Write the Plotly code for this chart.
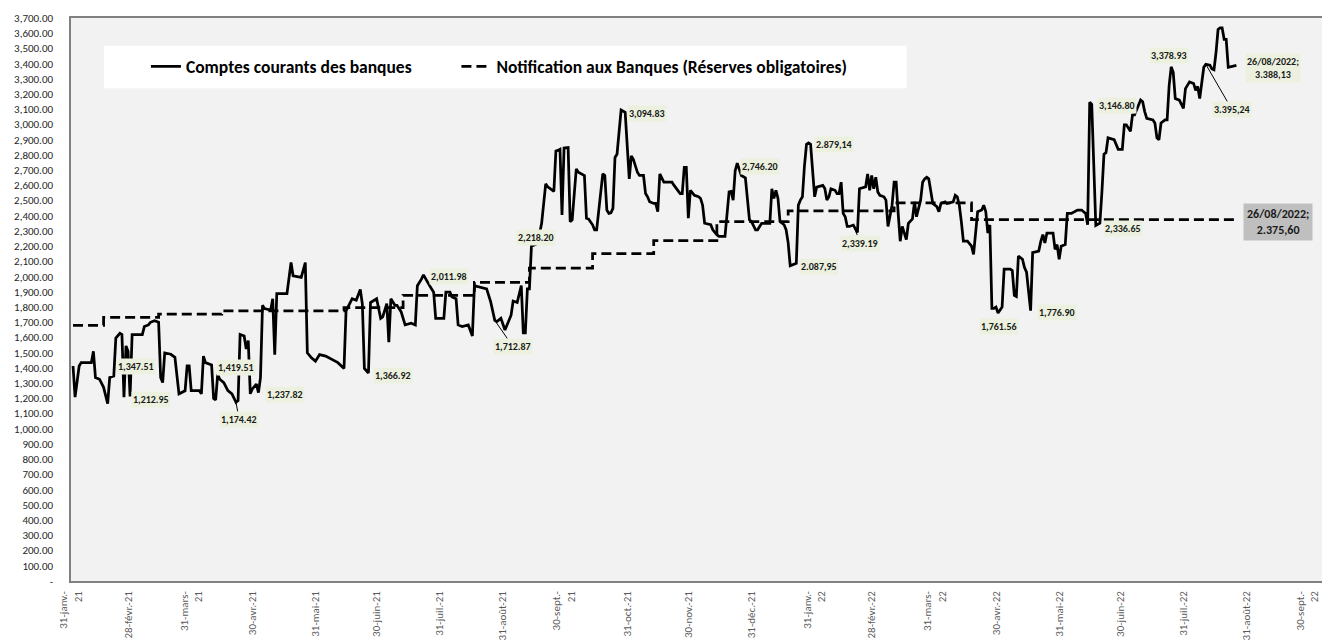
import plotly.graph_objects as go

# ---------------- data ----------------
cc_dates = [
    "2021-02-01","2021-02-02","2021-02-04","2021-02-05","2021-02-10","2021-02-11","2021-02-12","2021-02-14",
    "2021-02-16","2021-02-18","2021-02-19","2021-02-21","2021-02-22","2021-02-24","2021-02-25","2021-02-26",
    "2021-02-27","2021-02-28","2021-03-01","2021-03-02","2021-03-07","2021-03-08","2021-03-10","2021-03-11",
    "2021-03-13","2021-03-15","2021-03-16","2021-03-17","2021-03-18","2021-03-21","2021-03-23","2021-03-24",
    "2021-03-25","2021-03-28","2021-03-29","2021-03-30","2021-03-31","2021-04-04","2021-04-05","2021-04-06",
    "2021-04-07","2021-04-10","2021-04-11","2021-04-12","2021-04-13","2021-04-14","2021-04-16","2021-04-18",
    "2021-04-20","2021-04-22","2021-04-23","2021-04-24","2021-04-26","2021-04-27","2021-04-28","2021-04-29",
    "2021-04-30","2021-05-02","2021-05-03","2021-05-04","2021-05-05","2021-05-06","2021-05-09","2021-05-10",
    "2021-05-11","2021-05-12","2021-05-17","2021-05-19","2021-05-20","2021-05-24","2021-05-26","2021-05-27",
    "2021-05-29","2021-05-31","2021-06-02","2021-06-05","2021-06-08","2021-06-11","2021-06-14","2021-06-15",
    "2021-06-18","2021-06-20","2021-06-22","2021-06-23","2021-06-24","2021-06-26","2021-06-27","2021-06-30",
    "2021-07-02","2021-07-03","2021-07-05","2021-07-06","2021-07-07","2021-07-09","2021-07-10","2021-07-12",
    "2021-07-14","2021-07-17","2021-07-19","2021-07-20","2021-07-22","2021-07-23","2021-07-26","2021-07-28",
    "2021-07-29","2021-08-02","2021-08-03","2021-08-05","2021-08-06","2021-08-08","2021-08-09","2021-08-11",
    "2021-08-14","2021-08-16","2021-08-17","2021-08-20","2021-08-23","2021-08-25","2021-08-27","2021-08-28",
    "2021-08-30","2021-09-01","2021-09-04","2021-09-05","2021-09-07","2021-09-09","2021-09-10","2021-09-11",
    "2021-09-12","2021-09-13","2021-09-14","2021-09-17","2021-09-19","2021-09-21","2021-09-22","2021-09-25",
    "2021-09-26","2021-09-27","2021-09-28","2021-09-29","2021-09-30","2021-10-02","2021-10-03","2021-10-04",
    "2021-10-06","2021-10-07","2021-10-09","2021-10-10","2021-10-11","2021-10-12","2021-10-14","2021-10-15",
    "2021-10-16","2021-10-18","2021-10-19","2021-10-20","2021-10-21","2021-10-22","2021-10-23","2021-10-24",
    "2021-10-25","2021-10-26","2021-10-27","2021-10-28","2021-10-30","2021-10-31","2021-11-01","2021-11-02",
    "2021-11-03","2021-11-05","2021-11-06","2021-11-08","2021-11-09","2021-11-10","2021-11-11","2021-11-13",
    "2021-11-14","2021-11-15","2021-11-16","2021-11-18","2021-11-22","2021-11-23","2021-11-24","2021-11-26",
    "2021-11-27","2021-11-28","2021-11-29","2021-11-30","2021-12-01","2021-12-03","2021-12-05","2021-12-06",
    "2021-12-07","2021-12-08","2021-12-11","2021-12-12","2021-12-14","2021-12-15","2021-12-18","2021-12-19",
    "2021-12-20","2021-12-21","2021-12-22","2021-12-23","2021-12-24","2021-12-26","2021-12-28","2021-12-30",
    "2021-12-31","2022-01-02","2022-01-03","2022-01-04","2022-01-05","2022-01-09","2022-01-10","2022-01-11",
    "2022-01-12","2022-01-13","2022-01-14","2022-01-16","2022-01-17","2022-01-18","2022-01-19","2022-01-22",
    "2022-01-23","2022-01-24","2022-01-25","2022-01-26","2022-01-27","2022-01-28","2022-01-29","2022-01-31",
    "2022-02-01","2022-02-04","2022-02-05","2022-02-06","2022-02-07","2022-02-08","2022-02-10","2022-02-11",
    "2022-02-12","2022-02-13","2022-02-14","2022-02-15","2022-02-16","2022-02-17","2022-02-19","2022-02-21",
    "2022-02-22","2022-02-25","2022-02-26","2022-02-27","2022-02-28","2022-03-01","2022-03-02","2022-03-03",
    "2022-03-04","2022-03-06","2022-03-07","2022-03-08","2022-03-09","2022-03-10","2022-03-11","2022-03-12",
    "2022-03-13","2022-03-14","2022-03-15","2022-03-16","2022-03-17","2022-03-18","2022-03-20","2022-03-21",
    "2022-03-22","2022-03-23","2022-03-24","2022-03-25","2022-03-26","2022-03-27","2022-03-28","2022-03-30",
    "2022-03-31","2022-04-01","2022-04-02","2022-04-03","2022-04-05","2022-04-06","2022-04-09","2022-04-10",
    "2022-04-11","2022-04-12","2022-04-13","2022-04-14","2022-04-16","2022-04-18","2022-04-19","2022-04-20",
    "2022-04-21","2022-04-23","2022-04-24","2022-04-25","2022-04-26","2022-04-27","2022-04-28","2022-04-29",
    "2022-04-30","2022-05-01","2022-05-02","2022-05-03","2022-05-04","2022-05-07","2022-05-08","2022-05-09",
    "2022-05-10","2022-05-11","2022-05-13","2022-05-14","2022-05-15","2022-05-17","2022-05-18","2022-05-21",
    "2022-05-22","2022-05-23","2022-05-24","2022-05-25","2022-05-28","2022-05-29","2022-05-30","2022-05-31",
    "2022-06-01","2022-06-03","2022-06-04","2022-06-06","2022-06-09","2022-06-11","2022-06-13","2022-06-14",
    "2022-06-15","2022-06-16","2022-06-18","2022-06-20","2022-06-21","2022-06-22","2022-06-23","2022-06-24",
    "2022-06-27","2022-06-29","2022-07-01","2022-07-02","2022-07-03","2022-07-05","2022-07-06","2022-07-07",
    "2022-07-10","2022-07-11","2022-07-12","2022-07-13","2022-07-16","2022-07-17","2022-07-18","2022-07-19",
    "2022-07-20","2022-07-22","2022-07-23","2022-07-24","2022-07-25","2022-07-26","2022-07-27","2022-07-29",
    "2022-07-31","2022-08-01","2022-08-03","2022-08-05","2022-08-06","2022-08-07","2022-08-08","2022-08-09",
    "2022-08-10","2022-08-11","2022-08-13","2022-08-14","2022-08-15","2022-08-16","2022-08-17","2022-08-18",
    "2022-08-19","2022-08-20","2022-08-21","2022-08-22","2022-08-23","2022-08-25","2022-08-26",
]
cc_values = [
    1413,1208,1413,1435,1435,1510,1337,1326,
    1273,1165,1337,1347.51,1596,1628,1620,1208,
    1545,1510,1212.95,1620,1620,1672,1683,1700,
    1710,1700,1337,1304,1499,1490,1470,1337,
    1230,1250,1413,1413,1251,1251,1230,1478,
    1435,1419.51,1200,1190,1359,1326,1304,1251,
    1230,1174.42,1185,1620,1610,1525,1580,1230,
    1262,1294,1237.82,1337,1812,1790,1780,1855,
    1488,1888,1888,2093,2006,1995,2093,1500,
    1467,1445,1488,1478,1456,1435,1397,1775,
    1855,1845,1916,1820,1397,1366.92,1830,1855,
    1726,1736,1823,1570,1855,1812,1812,1770,
    1683,1694,1683,1941,1984,2011.98,1941,1898,
    1726,1726,1899,1899,1866,1855,1683,1672,
    1683,1610,1941,1930,1920,1834,1712.87,1705,
    1726,1650,1747,1840,1830,1941,1630,1630,
    1920,1920,2200,2218.20,2351,2610,2590,2560,
    2826,2830,2837,2405,2845,2848,2362,2373,
    2708,2686,2675,2665,2384,2380,2341,2308,
    2308,2546,2675,2665,2438,2416,2420,2449,
    2783,2805,2977,3094.83,3080,2816,2643,2794,
    2772,2686,2665,2665,2546,2525,2492,2481,
    2481,2427,2675,2621,2621,2600,2580,2546,
    2546,2718,2718,2384,2568,2535,2525,2514,
    2470,2351,2341,2308,2276,2265,2265,2416,
    2557,2560,2503,2697,2746.20,2665,2650,2373,
    2362,2308,2308,2330,2351,2351,2578,2514,
    2568,2514,2362,2341,2308,2222,2071,2087.95,
    2470,2503,2525,2729,2870,2879.14,2870,2525,
    2589,2600,2580,2503,2525,2578,2568,2546,
    2546,2621,2416,2394,2330,2330,2339.19,2290,
    2578,2590,2675,2568,2665,2578,2654,2557,
    2535,2525,2503,2330,2394,2470,2621,2621,
    2416,2233,2330,2287,2244,2351,2380,2492,
    2394,2449,2503,2621,2643,2654,2643,2481,
    2470,2460,2427,2481,2492,2481,2492,2535,
    2525,2470,2362,2233,2233,2200,2146,2265,
    2427,2438,2470,2427,2287,2340,1791,1791,
    1800,1761.56,1785,1800,2049,2049,2040,1877,
    1870,2136,2115,2060,2030,1776.90,2158,2168,
    2233,2276,2222,2287,2287,2179,2211,2114,
    2200,2211,2416,2416,2438,2438,2416,2341,
    3146.80,3133,2336.65,2351,2557,2805,2815,2912,
    2900,2837,2837,2998,2998,2955,3063,3063,
    3161,3150,3085,3040,3030,3010,2912,2900,
    3010,3031,3031,3258,3378.93,3343,3171,3160,
    3106,3236,3280,3270,3225,3250,3171,3290,
    3376,3395.24,3390,3365,3360,3473,3624,3635,
    3635,3560,3560,3376,3380,3385,3388.13,
]

ro_dates = ["2021-02-01","2021-02-16","2021-03-15","2021-04-15","2021-06-14","2021-07-13",
            "2021-08-17","2021-09-13","2021-10-14","2021-11-13","2021-12-14","2022-01-18",
            "2022-03-11","2022-04-18","2022-08-26"]
ro_values = [1680,1732,1754,1776,1797,1877,1963,2056,2151,2237,2362,2433,2485,2375.60,2375.60]

tick_dates = ["2021-01-31","2021-02-28","2021-03-31","2021-04-30","2021-05-31","2021-06-30",
              "2021-07-31","2021-08-31","2021-09-30","2021-10-31","2021-11-30","2021-12-31",
              "2022-01-31","2022-02-28","2022-03-31","2022-04-30","2022-05-31","2022-06-30",
              "2022-07-31","2022-08-31","2022-09-30"]
tick_labels = ["31-janv.-<br>21","28-févr.-21","31-mars-<br>21","30-avr.-21","31-mai-21","30-juin-21",
               "31-juil.-21","31-août-21","30-sept.-<br>21","31-oct.-21","30-nov.-21","31-déc.-21",
               "31-janv.-<br>22","28-févr.-22","31-mars-<br>22","30-avr.-22","31-mai-22","30-juin-22",
               "31-juil.-22","31-août-22","30-sept.-<br>22"]

y_tick_values = list(range(0, 3701, 100))
y_tick_labels = ["-" if v == 0 else f"{v:,.2f}" for v in y_tick_values]

series_names = ["Comptes courants des banques", "Notification aux Banques (Réserves obligatoires)"]

# data labels: (date, value, text)
label_points = [
    ("2021-02-21", 1347.51, "1,347.51"),
    ("2021-03-01", 1212.95, "1,212.95"),
    ("2021-04-10", 1419.51, "1,419.51"),
    ("2021-04-22", 1174.42, "1,174.42"),
    ("2021-05-03", 1237.82, "1,237.82"),
    ("2021-06-26", 1366.92, "1,366.92"),
    ("2021-07-23", 2011.98, "2,011.98"),
    ("2021-08-27", 1712.87, "1,712.87"),
    ("2021-09-17", 2218.20, "2,218.20"),
    ("2021-10-28", 3094.83, "3,094.83"),
    ("2021-12-24", 2746.20, "2,746.20"),
    ("2022-01-28", 2879.14, "2.879,14"),
    ("2022-01-22", 2087.95, "2.087,95"),
    ("2022-02-19", 2339.19, "2,339.19"),
    ("2022-05-01", 1761.56, "1,761.56"),
    ("2022-05-17", 1776.90, "1,776.90"),
    ("2022-06-18", 2336.65, "2,336.65"),
    ("2022-06-15", 3146.80, "3,146.80"),
    ("2022-07-25", 3378.93, "3,378.93"),
    ("2022-08-11", 3395.24, "3.395,24"),
    ("2022-08-26", 3388.13, "26/08/2022;<br>3.388,13"),
]
end_label_ro = ("2022-08-26", 2375.60, "26/08/2022;<br>2.375,60")

# label placement (pixel offsets from point, screen coords) and leader flag
label_offsets = [
    (22, -9, False), (21, 3, False), (24, 2, False), (3, 17, True), (27, 2, False),
    (25, 2, False), (26, 2, False), (18, 26, True), (-2, -6, False), (26, 3, False),
    (23, 3, False), (25, 2, False), (23, 3, False), (7, 18, True), (1, 14, False),
    (26, 2, False), (27, 3, False), (27, 3, False), (-2, -11, False), (26, 45, True),
    (37, 3, False),
]

FONT = "Calibri, Carlito, Lato, sans-serif"
LABEL_BG = "#EBF1DE"

fig = go.Figure()
fig.add_trace(go.Scatter(
    x=cc_dates, y=cc_values, mode="lines", name=series_names[0], legend="legend",
    line=dict(color="black", width=2.75), hoverinfo="x+y",
))
fig.add_trace(go.Scatter(
    x=ro_dates, y=ro_values, mode="lines", name=series_names[1], legend="legend2",
    line=dict(color="black", width=2.75, dash="10px,5px", shape="hv"), hoverinfo="x+y",
))

annotations = []
for (d, v, t), (dx, dy, leader) in zip(label_points, label_offsets):
    base = dict(x=d, y=v, xref="x", yref="y", text=t, bgcolor=LABEL_BG,
                font=dict(family=FONT, size=10, color="#1a1a1a", weight="bold"),
                borderpad=1, align="center")
    if leader:
        base.update(showarrow=True, arrowhead=0, arrowwidth=1, arrowcolor="black",
                    ax=dx, ay=dy, standoff=0)
    else:
        base.update(showarrow=False, xshift=dx, yshift=-dy)
    annotations.append(base)

annotations.append(dict(
    x=end_label_ro[0], y=end_label_ro[1], xref="x", yref="y", text=end_label_ro[2],
    showarrow=False, xshift=42, yshift=-2, bgcolor="#BFBFBF", borderpad=3,
    font=dict(family=FONT, size=12, color="#1a1a1a", weight="bold"), align="center",
))

legend_style = dict(orientation="h", y=0.914, xanchor="left", yanchor="middle",
                    bgcolor="rgba(0,0,0,0)", itemwidth=30,
                    font=dict(family=FONT, size=17.5, color="black", weight="bold"))

# the page body has an 8px margin: figure is sized to fit the 1330x644 window
fig.update_layout(
    width=1322, height=636,
    margin=dict(l=63, r=4, t=9, b=57),
    paper_bgcolor="white", plot_bgcolor="#F2F2F2",
    font=dict(family=FONT, color="#404040"),
    showlegend=True,
    legend=dict(x=0.0598, **legend_style),
    legend2=dict(x=0.3076, **legend_style),
    shapes=[dict(type="rect", xref="paper", yref="paper", x0=0.0263, x1=0.6669, y0=0.8754, y1=0.9509,
                 fillcolor="white", line=dict(width=0), layer="below")],
    annotations=annotations,
)
fig.update_xaxes(
    type="date", range=["2021-01-31", "2022-10-08"],
    tickvals=tick_dates, ticktext=tick_labels, tickangle=-90,
    tickfont=dict(family=FONT, size=11, color="#595959"),
    showgrid=False, zeroline=False, showline=True, linecolor="#808080", linewidth=1.5, mirror=True,
    ticks="", ticklabelstandoff=4,
)
fig.update_yaxes(
    range=[0, 3700], tickvals=y_tick_values, ticktext=y_tick_labels,
    tickfont=dict(family=FONT, size=11, color="#262626"),
    showgrid=False, zeroline=False, showline=True, linecolor="#808080", linewidth=1.5, mirror=True,
    ticks="", ticklabelstandoff=14,
)

fig.write_html("out.html")
